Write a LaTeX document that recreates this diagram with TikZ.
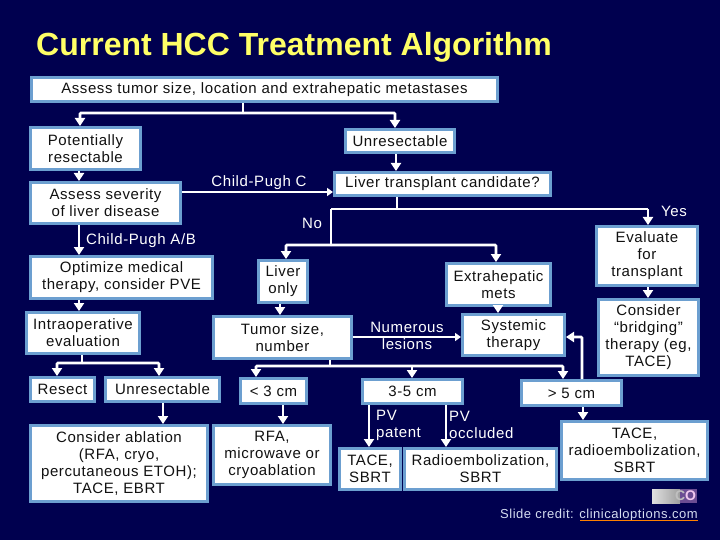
\documentclass[tikz,border=0pt]{standalone}
\usepackage{fontspec}
\setmainfont[LetterSpace=4]{Liberation Sans}
\newfontfamily\titlefont{Liberation Sans}
\newfontfamily\logofont{Liberation Sans}
\usetikzlibrary{arrows.meta,calc}
\definecolor{navy}{HTML}{00004F}
\definecolor{edgeblue}{HTML}{6C9FD0}
\definecolor{ink}{HTML}{111111}
\definecolor{gold}{HTML}{FFFF66}
\definecolor{credit}{HTML}{D4DCF0}
\definecolor{logopurple}{HTML}{6A4C93}
\definecolor{logopink}{HTML}{F0C8F0}
\tikzset{
  box/.style={draw=edgeblue,line width=3pt,fill=white,text=ink,inner sep=0pt,align=center,
    font=\fontsize{15}{17}\selectfont},
  lab/.style={text=white,inner sep=0pt,align=center,font=\fontsize{15}{17}\selectfont},
  wire/.style={draw=white,line width=2.6pt},
  arr/.style={draw=white,line width=2.6pt,-{Triangle[width=10pt,length=8pt]}},
  thin wire/.style={draw=white,line width=2pt},
  thin arr/.style={draw=white,line width=2pt,-{Triangle[width=8pt,length=6pt]}},
}
% \bx{name}{left}{top}{right}{bottom}{text}: outer edges in reference pixels
\newcommand{\bx}[6]{%
  \pgfmathsetmacro{\bxcx}{(#2+#4)/2}%
  \pgfmathsetmacro{\bxcy}{(#3+#5)/2}%
  \pgfmathsetmacro{\bxw}{#4-#2-3}%
  \pgfmathsetmacro{\bxh}{#5-#3-3}%
  \node[box,minimum width=\bxw pt,minimum height=\bxh pt] (#1) at (\bxcx,\bxcy) {#6};%
}
\begin{document}
\begin{tikzpicture}[x=1pt,y=-1pt]
\path[use as bounding box,fill=navy] (0,0) rectangle (720,540);
\node[anchor=base west,inner sep=0pt,text=gold,font=\titlefont\fontsize{32}{34}\selectfont\bfseries] (title) at (36,55.5) {Current HCC Treatment Algorithm};

\bx{top}{30}{76}{499}{103}{Assess tumor size, location and extrahepatic metastases}
\bx{pot}{29}{126}{142}{171}{Potentially\\resectable}
\bx{sev}{29}{181}{182}{225}{Assess severity\\of liver disease}
\bx{unr}{344}{128}{456}{154}{Unresectable}
\bx{ltc}{333}{171}{552}{197}{Liver transplant candidate?}
\bx{eva}{595}{225}{699}{287}{Evaluate\\for\\transplant}
\bx{bri}{597}{298}{700}{377}{Consider\\“bridging”\\therapy (eg,\\TACE)}
\bx{opt}{29}{255}{214}{300}{Optimize medical\\therapy, consider PVE}
\bx{liv}{257}{259}{309}{304}{Liver\\only}
\bx{ext}{445}{262}{552}{307}{Extrahepatic\\mets}
\bx{tum}{212}{315}{353}{360}{Tumor size,\\number}
\bx{sys}{461}{313}{566}{357}{Systemic\\therapy}
\bx{int}{25}{311}{141}{355}{Intraoperative\\evaluation}
\bx{res}{29}{376}{96}{403}{Resect}
\bx{un2}{104}{376}{221}{403}{Unresectable}
\bx{lt3}{239}{377}{308}{405}{< 3 cm}
\bx{mid}{361}{378}{464}{405}{3-5 cm}
\bx{gt5}{520}{379}{623}{407}{> 5 cm}
\bx{abl}{29}{424}{209}{503}{Consider ablation\\(RFA, cryo,\\percutaneous ETOH);\\TACE, EBRT}
\bx{rfa}{212}{424}{332}{486}{RFA,\\microwave or\\cryoablation}
\bx{tas}{338}{447}{402}{491}{TACE,\\SBRT}
\bx{rad}{403}{447}{558}{491}{Radioembolization,\\SBRT}
\bx{trs}{560}{420}{709}{481}{TACE,\\radioembolization,\\SBRT}

% labels
\node[lab] (lc) at (259,183) {Child-Pugh C};
\node[lab] (lab) at (141,241) {Child-Pugh A/B};
\node[lab] (lno) at (312,223) {No};
\node[lab] (lyes) at (674,211) {Yes};
\node[lab] (lnum) at (407,336) {Numerous\\lesions};
\node[lab,align=left,anchor=west] (lpat) at (376,425) {PV\\patent};
\node[lab,align=left,anchor=west] (locc) at (449,425) {PV\\occluded};

% top split
\coordinate (j1) at (243,113);
\coordinate (j1l) at (80,113);
\coordinate (j1r) at (395,113);
\draw[wire] (top.south -| j1) -- (j1);
\draw[arr,rounded corners=1pt] (j1) -- (j1l) -- (j1l |- pot.north);
\draw[arr,rounded corners=1pt] (j1) -- (j1r) -- (j1r |- unr.north);
\coordinate (a1) at (79,200);
\draw[arr] (pot.south -| a1) -- (sev.north -| a1);
\draw[arr] (sev.south -| a1) -- (opt.north -| a1);
\draw[arr] (opt.south -| a1) -- (int.north -| a1);
% Child-Pugh C
\coordinate (cpc) at (200,192);
\draw[thin arr] (sev.east |- cpc) -- (ltc.west |- cpc);
\coordinate (a2) at (396,150);
\draw[arr] (unr.south -| a2) -- (ltc.north -| a2);
% transplant split
\coordinate (j2) at (397,209);
\coordinate (j2l) at (331,209);
\coordinate (j2r) at (648,209);
\draw[thin wire] (ltc.south -| j2) -- (j2);
\draw[thin wire] (j2l) -- (j2r);
\draw[arr] (j2r) -- (eva.north -| j2r);
\coordinate (j3) at (331,245);
\coordinate (j3l) at (286,245);
\coordinate (j3r) at (496,245);
\draw[thin wire] (j2l) -- (j3);
\draw[arr,rounded corners=1pt] (j3) -- (j3l) -- (liv.north -| j3l);
\draw[arr,rounded corners=1pt] (j3) -- (j3r) -- (ext.north -| j3r);
\draw[arr] (eva.south -| j2r) -- (bri.north -| j2r);
% intraoperative split
\coordinate (j4) at (82,363);
\coordinate (j4l) at (57,363);
\coordinate (j4r) at (159,363);
\draw[wire] (int.south -| j4) -- (j4);
\draw[arr,rounded corners=1pt] (j4) -- (j4l) -- (res.north -| j4l);
\draw[arr,rounded corners=1pt] (j4) -- (j4r) -- (un2.north -| j4r);
\coordinate (a3) at (163,400);
\draw[arr] (un2.south -| a3) -- (abl.north -| a3);
% liver only branch
\coordinate (a4) at (280,310);
\draw[arr] (liv.south -| a4) -- (tum.north -| a4);
\coordinate (j5) at (330,366);
\coordinate (j5l) at (256,366);
\coordinate (j5m) at (412,366);
\coordinate (j5r) at (563,366);
\draw[wire] (tum.south -| j5) -- (j5);
\draw[arr,rounded corners=1pt] (j5) -- (j5l) -- (lt3.north -| j5l);
\draw[arr] (j5m) -- (mid.north -| j5m);
\draw[arr,rounded corners=1pt] (j5) -- (j5r) -- (gt5.north -| j5r);
\coordinate (nl) at (400,337);
\draw[thin arr] (tum.east |- nl) -- (sys.west |- nl);
\coordinate (a5) at (498,300);
\draw[arr] (ext.south -| a5) -- (sys.north -| a5);
\coordinate (a6) at (582,337);
\draw[arr,rounded corners=1pt] (gt5.north -| a6) -- (a6) -- (sys.east |- a6);
\coordinate (a7) at (283,400);
\draw[arr] (lt3.south -| a7) -- (rfa.north -| a7);
\coordinate (a8) at (369,420);
\draw[arr] (mid.south -| a8) -- (tas.north -| a8);
\coordinate (a9) at (446,420);
\draw[arr] (mid.south -| a9) -- (rad.north -| a9);
\coordinate (a10) at (583,412);
\draw[arr] (gt5.south -| a10) -- (trs.north -| a10);

% logo
\shade[left color=white!88!black,right color=white!62!black] (652,489) rectangle (680,503);
\fill[logopurple] (680,489) rectangle (697,503);
\node[inner sep=0pt,font=\logofont\fontsize{14}{14}\selectfont\bfseries] (logo) at (685.5,496) {\textcolor{white!75!black}{C}\textcolor{logopink}{O}};

% credit
\node[anchor=base east,inner sep=0pt,text=credit,font=\fontsize{13}{15}\selectfont] (credit) at (698,518) {Slide credit: clinicaloptions.com};
\coordinate (ul) at (580,520);
\draw[orange,line width=1pt] (ul) -- (ul -| credit.east);
\end{tikzpicture}
\end{document}
